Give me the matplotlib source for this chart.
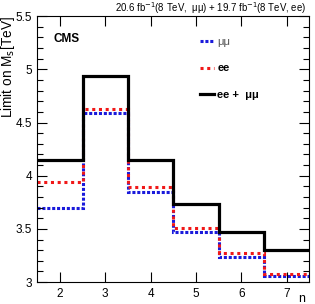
"""CMS limit on M_s vs n for the ee, mumu and combined channels."""
import matplotlib

matplotlib.use("Agg")
import matplotlib.pyplot as plt
from matplotlib.ticker import FormatStrFormatter, MultipleLocator
import numpy as np

plt.rcParams["font.family"] = ["Liberation Sans", "DejaVu Sans"]

n_values = [2, 3, 4, 5, 6, 7]
limit_mumu = [3.70, 4.59, 3.85, 3.47, 3.24, 3.06]
limit_ee = [3.94, 4.63, 3.89, 3.51, 3.27, 3.08]
limit_comb = [4.15, 4.94, 4.145, 3.735, 3.475, 3.30]

edges = np.append(np.array(n_values) - 0.5, n_values[-1] + 0.5)

fig = plt.figure(figsize=(3.15, 3.04), dpi=100)
ax = fig.add_axes([0.118, 0.072, 0.864, 0.875])

ax.stairs(limit_mumu, edges, baseline=None, color="#1a1adb", lw=2.2,
          linestyle=(0, (1, 0.6)), label="μμ")
ax.stairs(limit_ee, edges, baseline=None, color="#f01818", lw=2.2,
          linestyle=(0, (1, 1.2)), label="ee")
ax.stairs(limit_comb, edges, baseline=None, color="black", lw=2.3,
          label="ee +  μμ")

ax.set_xlim(1.5, 7.5)
ax.set_ylim(3, 5.5)
ax.xaxis.set_major_locator(MultipleLocator(1))
ax.yaxis.set_major_locator(MultipleLocator(0.5))
ax.yaxis.set_minor_locator(MultipleLocator(0.1))
ax.yaxis.set_major_formatter(FormatStrFormatter("%g"))
ax.tick_params(which="both", direction="in", top=True, right=True, labelsize=8.5)
ax.tick_params(which="major", length=7, width=0.8)
ax.tick_params(which="minor", length=4, width=0.8)
ax.tick_params(axis="x", pad=4)
for s in ax.spines.values():
    s.set_linewidth(0.8)

ax.set_ylabel(r"Limit on M$_{\rm s}$[TeV]", fontsize=9.8, ha="right", y=1.0)
ax.yaxis.set_label_coords(-0.075, 1.0)
ax.set_xlabel("n", fontsize=9, ha="right", va="top", x=1.0)
ax.xaxis.set_label_coords(0.985, -0.04)

ax.text(0.06, 0.915, "CMS", transform=ax.transAxes, fontsize=8.5,
        fontweight="bold", va="center")
ax.text(0.99, 0.999, r"20.6 fb$^{-1}$(8 TeV,  μμ) + 19.7 fb$^{-1}$(8 TeV, ee)",
        transform=ax.transAxes, fontsize=6.9, ha="right", va="bottom")

leg = ax.legend(loc="upper left", bbox_to_anchor=(0.56, 0.96), frameon=False,
                handlelength=1.3, handletextpad=0.3,
                labelspacing=1.5, prop={"weight": "bold", "size": 8})
leg.get_texts()[0].set_fontweight("normal")
leg.get_texts()[0].set_color("#555555")

fig.savefig("out.png", dpi=100)
